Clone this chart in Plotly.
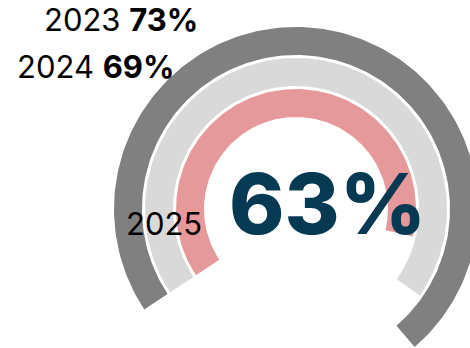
import numpy as np
import plotly.graph_objects as go

# ---- data ----
years = ["2023", "2024", "2025"]
values = [73, 69, 63]
colors = ["#808080", "#D9D9D9", "#E6999A"]
headline = "63%"

# ---- layout geometry (pixels, centre of rings at origin) ----
W, H = 470, 348
CX, CY = 296, 209            # ring centre from top-left
ring_radii = [(154, 182), (123, 151), (92, 120)]
START_DEG = -123.5           # clockwise from 12 o'clock
FULL_DEG = 360.0             # 100 %

fig = go.Figure()
for yr, v, c, (r0, r1) in zip(years, values, colors, ring_radii):
    a = np.radians(np.linspace(START_DEG, START_DEG + v / 100 * FULL_DEG, 200))
    xo, yo = r1 * np.sin(a), r1 * np.cos(a)
    xi, yi = r0 * np.sin(a[::-1]), r0 * np.cos(a[::-1])
    fig.add_trace(go.Scatter(
        x=np.concatenate([xo, xi, xo[:1]]),
        y=np.concatenate([yo, yi, yo[:1]]),
        fill="toself", fillcolor=c, mode="lines",
        line=dict(width=0, color=c), hoverinfo="skip", name=yr,
        showlegend=False))

FONT = "Inter"

def px(x, y):
    return x / W, 1 - y / H

annots = [
    (f"{years[0]} <b>{values[0]}%</b>", 200, 19, "right", 31, "#000000", "normal"),
    (f"{years[1]} <b>{values[1]}%</b>", 176, 66, "right", 31, "#000000", "normal"),
    (f"{years[2]}", 204, 223.5, "right", 31, "#000000", "normal"),
    (f"{headline}", 327, 203.5, "center", 84, "#053A52", 800),
]
for text, x, y, xa, size, col, wt in annots:
    xp, yp = px(x, y)
    fig.add_annotation(text=text, x=xp, y=yp, xref="paper", yref="paper",
                       xanchor=xa, yanchor="middle", showarrow=False,
                       font=dict(family=FONT, size=size, color=col, weight=wt))

fig.update_xaxes(range=[-CX, W - CX], visible=False, fixedrange=True)
fig.update_yaxes(range=[CY - H, CY], visible=False, fixedrange=True)
fig.update_layout(width=W, height=H, margin=dict(l=0, r=0, t=0, b=0),
                  paper_bgcolor="white", plot_bgcolor="white",
                  showlegend=False)
fig.write_html("out.html")
